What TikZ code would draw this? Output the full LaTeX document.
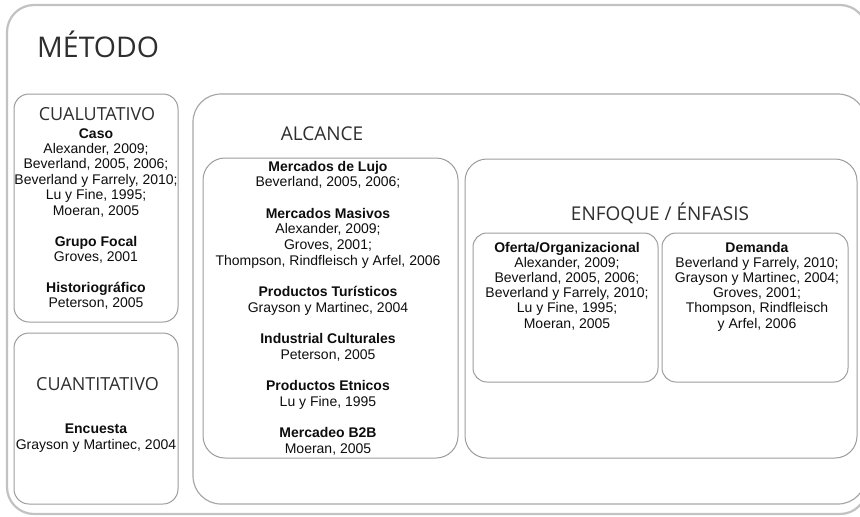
\documentclass[tikz,border=0pt]{standalone}
\usepackage{fontspec}
\setmainfont{Liberation Sans}
\newfontfamily\ttlfont{Open Sans}
\definecolor{outerline}{HTML}{C2C2C2}
\definecolor{midline}{HTML}{A8A8A8}
\definecolor{innerline}{HTML}{9C9C9C}
\definecolor{ttlcol}{HTML}{2E2E2E}
\definecolor{txtcol}{HTML}{0D0D0D}
\newcommand\reffont{\fontsize{14}{16}\selectfont}
\tikzset{
  outerbox/.style={draw=outerline, line width=2.2pt, rounded corners=27pt, inner sep=0pt},
  midbox/.style={draw=midline, line width=1.2pt, rounded corners=28pt, inner sep=0pt},
  inbox/.style={draw=innerline, line width=1pt, rounded corners=#1, inner sep=0pt},
  inbox/.default=15pt,
  bigtitle/.style={font=\ttlfont\fontsize{28.5}{32}\selectfont, text=ttlcol, anchor=base west, inner sep=0pt},
  subtitle/.style={font=\ttlfont\fontsize{#1}{20}\selectfont, text=ttlcol, anchor=base, inner sep=0pt},
  subtitle/.default=18,
  ref/.style={font=\reffont, text=txtcol, anchor=base, inner sep=0pt},
}
\begin{document}
\begin{tikzpicture}[x=1pt,y=-1pt]
\useasboundingbox (0,0) rectangle (860,517);
\clip (0,0) rectangle (860,517);
% boxes
\node[outerbox, minimum width=860, minimum height=509] (metodobox) at (437,259.5) {};
\node[midbox, minimum width=673, minimum height=410] (alcancebox) at (529.5,299) {};
\node[inbox, minimum width=164, minimum height=228] (cualbox) at (96,208) {};
\node[inbox, minimum width=164, minimum height=171] (cuanbox) at (96,418.5) {};
\node[inbox=22pt, minimum width=255, minimum height=300] (alcinbox) at (330.5,308) {};
\node[inbox=22pt, minimum width=392, minimum height=299] (enfbox) at (661,308.5) {};
\node[inbox=14pt, minimum width=185, minimum height=149] (ofebox) at (565.5,307.5) {};
\node[inbox=14pt, minimum width=186, minimum height=149] (dembox) at (755,307.5) {};
% titles
\node[bigtitle] (metodo) at (37,57) {MÉTODO};
\node[subtitle] (cual) at (97,120) {CUALUTATIVO};
\node[subtitle] (cuan) at (97.5,390) {CUANTITATIVO};
\node[subtitle=19] (alc) at (322,140) {ALCANCE};
\node[subtitle=19] (enf) at (660,220) {ENFOQUE / ÉNFASIS};
% cualitativo
\foreach \t [count=\i] in {{\textbf{Caso}},{Alexander, 2009;},{Beverland, 2005, 2006;},{Beverland y Farrely, 2010;},{Lu y Fine, 1995;},{Moeran, 2005},{},{\textbf{Grupo Focal}},{Groves, 2001},{},{\textbf{Historiográfico}},{Peterson, 2005}}
  \node[ref] (cq\i) at (96,{138+15.45*(\i-1)}) {\t};
% cuantitativo
\foreach \t [count=\i] in {{\textbf{Encuesta}},{Grayson y Martinec, 2004}}
  \node[ref] (cn\i) at (96,{433+16*(\i-1)}) {\t};
% alcance
\foreach \t [count=\i] in {{\textbf{Mercados de Lujo}},{Beverland, 2005, 2006;},{},{\textbf{Mercados Masivos}},{Alexander, 2009;},{Groves, 2001;},{Thompson, Rindfleisch y Arfel, 2006},{},{\textbf{Productos Turísticos}},{Grayson y Martinec, 2004},{},{\textbf{Industrial Culturales}},{Peterson, 2005},{},{\textbf{Productos Etnicos}},{Lu y Fine, 1995},{},{\textbf{Mercadeo B2B}},{Moeran, 2005}}
  \node[ref] (al\i) at (328,{171+15.67*(\i-1)}) {\t};
% oferta
\foreach \t [count=\i] in {{\textbf{Oferta/Organizacional}},{Alexander, 2009;},{Beverland, 2005, 2006;},{Beverland y Farrely, 2010;},{Lu y Fine, 1995;},{Moeran, 2005}}
  \node[ref] (of\i) at (567,{252+15.2*(\i-1)}) {\t};
% demanda
\foreach \t [count=\i] in {{\textbf{Demanda}},{Beverland y Farrely, 2010;},{Grayson y Martinec, 2004;},{Groves, 2001;},{Thompson, Rindfleisch},{y Arfel, 2006}}
  \node[ref] (dm\i) at (757,{252+15.2*(\i-1)}) {\t};
\end{tikzpicture}
\end{document}
